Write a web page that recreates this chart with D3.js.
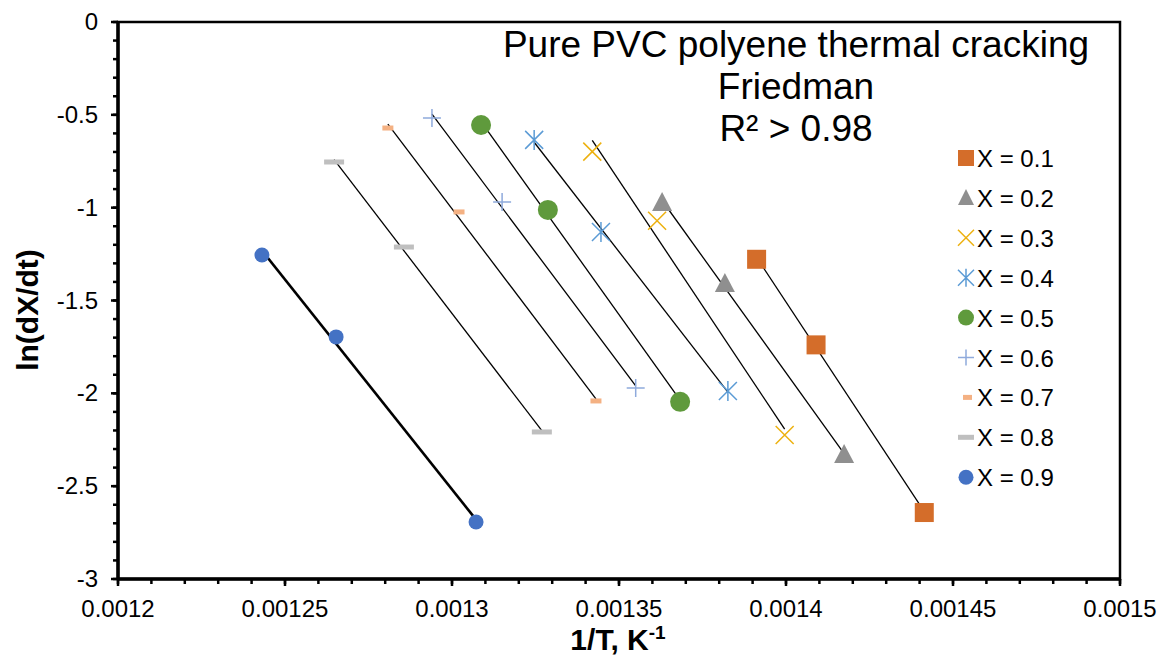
<!DOCTYPE html>
<html lang="en">
<head>
<meta charset="UTF-8">
<title>Friedman</title>
<style>
  body { margin: 0; background: #fff; }
  text { font-family: "Liberation Sans", Arial, sans-serif; }
</style>
</head>
<body>
<script src="https://cdnjs.cloudflare.com/ajax/libs/d3/7.8.5/d3.min.js"></script>
<script>
var seriesNames = ["X = 0.1", "X = 0.2", "X = 0.3", "X = 0.4", "X = 0.5", "X = 0.6", "X = 0.7", "X = 0.8", "X = 0.9"];
var invT = [
  [0.0013912, 0.0014090, 0.0014414],
  [0.0013629, 0.0013817, 0.0014174],
  [0.0013420, 0.0013614, 0.0013996],
  [0.0013246, 0.0013446, 0.0013826],
  [0.0013087, 0.0013287, 0.0013683],
  [0.0012940, 0.0013150, 0.0013550],
  [0.0012808, 0.0013021, 0.0013431],
  [0.0012647, 0.0012856, 0.0013269],
  [0.0012431, 0.0012653, 0.0013072]
];
var lnRate = [
  [-1.278, -1.739, -2.642],
  [-0.975, -1.411, -2.332],
  [-0.698, -1.070, -2.224],
  [-0.635, -1.131, -1.987],
  [-0.555, -1.012, -2.046],
  [-0.517, -0.969, -1.971],
  [-0.571, -1.023, -2.041],
  [-0.754, -1.212, -2.208],
  [-1.255, -1.696, -2.693]
];
var xTicks = [0.0012, 0.00125, 0.0013, 0.00135, 0.0014, 0.00145, 0.0015];
var yTicks = [0, -0.5, -1, -1.5, -2, -2.5, -3];
var colors = ["#D46D2A", "#8F8F8F", "#EDB10F", "#5B9BD5", "#5F9A3C", "#8FAADC", "#F4B183", "#BFBFBF", "#4472C4"];

var w = 1161, h = 655;
var pLeft = 118, pRight = 1120, pTop = 22, pBottom = 579;

var svg = d3.select("body").append("svg").attr("width", w).attr("height", h);

var x = d3.scaleLinear().domain([0.0012, 0.0015]).range([pLeft, pRight]);
var y = d3.scaleLinear().domain([-3, 0]).range([pBottom, pTop]);

// minor ticks
var xMinor = d3.range(0, 31).map(function(i) { return 0.0012 + i * 0.00001; });
svg.selectAll(".xminor").data(xMinor).enter().append("line")
  .attr("x1", function(d) { return x(d); }).attr("x2", function(d) { return x(d); })
  .attr("y1", pBottom).attr("y2", pBottom + 5)
  .attr("stroke", "#000").attr("stroke-width", 2.5);
var yMinor = d3.range(0, 31).map(function(i) { return -i * 0.1; });
svg.selectAll(".yminor").data(yMinor).enter().append("line")
  .attr("x1", pLeft - 5).attr("x2", pLeft)
  .attr("y1", function(d) { return y(d); }).attr("y2", function(d) { return y(d); })
  .attr("stroke", "#000").attr("stroke-width", 2.5);

// frame
svg.append("rect").attr("x", pLeft).attr("y", pTop)
  .attr("width", pRight - pLeft).attr("height", pBottom - pTop)
  .attr("fill", "none").attr("stroke", "#000").attr("stroke-width", 2.5);
svg.append("line").attr("x1", pLeft).attr("x2", pLeft).attr("y1", pTop).attr("y2", pBottom)
  .attr("stroke", "#000").attr("stroke-width", 3.5);
svg.append("line").attr("x1", pLeft).attr("x2", pRight).attr("y1", pBottom).attr("y2", pBottom)
  .attr("stroke", "#000").attr("stroke-width", 3.5);

// major ticks
svg.selectAll(".xmaj").data(xTicks).enter().append("line")
  .attr("x1", function(d) { return x(d); }).attr("x2", function(d) { return x(d); })
  .attr("y1", pBottom).attr("y2", pBottom + 7)
  .attr("stroke", "#000").attr("stroke-width", 2.5);
svg.selectAll(".ymaj").data(yTicks).enter().append("line")
  .attr("x1", pLeft - 7).attr("x2", pLeft)
  .attr("y1", function(d) { return y(d); }).attr("y2", function(d) { return y(d); })
  .attr("stroke", "#000").attr("stroke-width", 2.5);

// tick labels
svg.selectAll(".xlab").data(xTicks).enter().append("text")
  .attr("x", function(d) { return x(d); }).attr("y", 617)
  .attr("text-anchor", "middle").attr("font-size", 24)
  .text(function(d) { return String(+d.toPrecision(3)); });
svg.selectAll(".ylab").data(yTicks).enter().append("text")
  .attr("x", 98).attr("y", function(d) { return y(d) + 8; })
  .attr("text-anchor", "end").attr("font-size", 24)
  .text(function(d) { return String(d); });

// axis titles
svg.append("text").attr("transform", "translate(38,310) rotate(-90)")
  .attr("text-anchor", "middle").attr("font-size", 30).attr("font-weight", "bold")
  .text("ln(dX/dt)");
var xt = svg.append("text").attr("x", 618).attr("y", 650)
  .attr("text-anchor", "middle").attr("font-size", 30).attr("font-weight", "bold");
xt.append("tspan").text("1/T, K");
xt.append("tspan").attr("dy", -11).attr("font-size", 19).text("-1");

// trend lines (least squares)
function fit(xs, ys) {
  var mx = d3.mean(xs), my = d3.mean(ys);
  var sxy = d3.sum(xs, function(v, i) { return (v - mx) * (ys[i] - my); });
  var sxx = d3.sum(xs, function(v) { return (v - mx) * (v - mx); });
  var b = sxy / sxx;
  return { b: b, a: my - b * mx };
}
invT.forEach(function(xs, i) {
  var f = fit(xs, lnRate[i]);
  var x0 = d3.min(xs), x1 = d3.max(xs);
  svg.append("line")
    .attr("x1", x(x0)).attr("y1", y(f.a + f.b * x0))
    .attr("x2", x(x1)).attr("y2", y(f.a + f.b * x1))
    .attr("stroke", "#000").attr("stroke-width", i === 8 ? 2.6 : 1.3);
});

// markers
function drawMarker(g, i) {
  var c = colors[i];
  if (i === 0) g.append("rect").attr("x", -9.5).attr("y", -9.5).attr("width", 19).attr("height", 19).attr("fill", c);
  else if (i === 1) g.append("path").attr("d", "M0,-11L10,8L-10,8Z").attr("fill", c);
  else if (i === 2) g.append("path").attr("d", "M-9,-9L9,9M-9,9L9,-9").attr("stroke", c).attr("stroke-width", 1.5);
  else if (i === 3) g.append("path").attr("d", "M-9,-9L9,9M-9,9L9,-9M0,-10L0,10").attr("stroke", c).attr("stroke-width", 1.5);
  else if (i === 4) g.append("circle").attr("r", 10).attr("fill", c);
  else if (i === 5) g.append("path").attr("d", "M-9,0L9,0M0,-9L0,9").attr("stroke", c).attr("stroke-width", 1.5);
  else if (i === 6) g.append("rect").attr("x", -5.5).attr("y", -2.5).attr("width", 11).attr("height", 5).attr("fill", c);
  else if (i === 7) g.append("rect").attr("x", -10).attr("y", -2.5).attr("width", 20).attr("height", 5).attr("fill", c);
  else g.append("circle").attr("r", 7.5).attr("fill", c);
}
invT.forEach(function(xs, i) {
  xs.forEach(function(v, j) {
    var g = svg.append("g").attr("transform", "translate(" + x(v) + "," + y(lnRate[i][j]) + ")");
    drawMarker(g, i);
  });
});

// title
var titleLines = ["Pure PVC polyene thermal cracking", "Friedman", "R\u00B2 > 0.98"];
svg.selectAll(".title").data(titleLines).enter().append("text")
  .attr("x", 796).attr("y", function(d, i) { return 57 + i * 42; })
  .attr("text-anchor", "middle").attr("font-size", 37)
  .text(function(d) { return d; });

// legend
seriesNames.forEach(function(name, i) {
  var yy = 158 + i * 39.9;
  var g = svg.append("g").attr("transform", "translate(966," + yy + ")");
  if (i === 0) g.append("rect").attr("x", -8).attr("y", -8).attr("width", 16).attr("height", 16).attr("fill", colors[0]);
  else if (i === 1) g.append("path").attr("d", "M0,-9L8,7L-8,7Z").attr("fill", colors[1]);
  else if (i === 2) g.append("path").attr("d", "M-8,-8L8,8M-8,8L8,-8").attr("stroke", colors[2]).attr("stroke-width", 1.5);
  else if (i === 3) g.append("path").attr("d", "M-8,-8L8,8M-8,8L8,-8M0,-9L0,9").attr("stroke", colors[3]).attr("stroke-width", 1.5);
  else if (i === 4) g.append("circle").attr("r", 8).attr("fill", colors[4]);
  else if (i === 5) g.append("path").attr("d", "M-8,0L8,0M0,-8L0,8").attr("stroke", colors[5]).attr("stroke-width", 1.5);
  else if (i === 6) g.append("rect").attr("x", -3).attr("y", -2.5).attr("width", 9).attr("height", 5).attr("fill", colors[6]);
  else if (i === 7) g.append("rect").attr("x", -8).attr("y", -2.5).attr("width", 16).attr("height", 5).attr("fill", colors[7]);
  else g.append("circle").attr("r", 7.5).attr("fill", colors[8]);
  svg.append("text").attr("x", 977).attr("y", yy + 9).attr("font-size", 24).text(name);
});
</script>
</body>
</html>
